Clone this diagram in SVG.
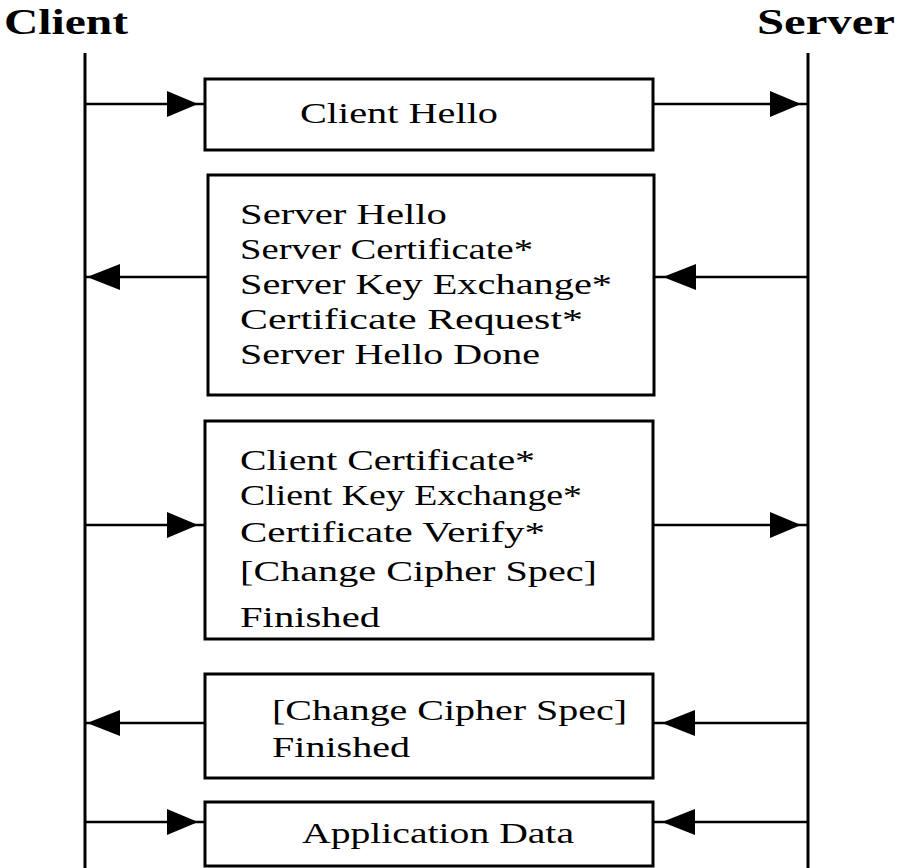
<svg xmlns="http://www.w3.org/2000/svg" width="898" height="868" viewBox="0 0 898 868">
<style>
.lifeline{stroke:#000;stroke-width:3;fill:none}
.box{fill:#fff;stroke:#000;stroke-width:3}
.msg{stroke:#000;stroke-width:2.5;fill:none}
.head{fill:#000}
.t{font-family:"Liberation Serif","Times New Roman",serif;font-size:30px;fill:#000}
.h{font-family:"Liberation Serif","Times New Roman",serif;font-size:35px;font-weight:bold;fill:#000}
</style>
<defs>
<polygon id="ar" class="head" points="0,0 -31,-13 -31,13"/>
<polygon id="al" class="head" points="0,0 33,-13 33,13"/>
</defs>
<rect width="898" height="868" fill="#fff"/>
<g id="client">
<text class="h" x="4" y="34" textLength="124" lengthAdjust="spacingAndGlyphs">Client</text>
<line class="lifeline" x1="85" y1="53" x2="85" y2="868"/>
</g>
<g id="server">
<text class="h" x="757" y="34" textLength="138" lengthAdjust="spacingAndGlyphs">Server</text>
<line class="lifeline" x1="808" y1="53" x2="808" y2="868"/>
</g>
<g id="connectors">
<line class="msg" x1="85" y1="104" x2="205" y2="104"/><use href="#ar" x="198" y="104"/>
<line class="msg" x1="653" y1="104" x2="808" y2="104"/><use href="#ar" x="801" y="104"/>
<line class="msg" x1="85" y1="277" x2="208" y2="277"/><use href="#al" x="87" y="277"/>
<line class="msg" x1="654" y1="277" x2="808" y2="277"/><use href="#al" x="663" y="277"/>
<line class="msg" x1="85" y1="525" x2="205" y2="525"/><use href="#ar" x="198" y="525"/>
<line class="msg" x1="653" y1="525" x2="808" y2="525"/><use href="#ar" x="801" y="525"/>
<line class="msg" x1="85" y1="723" x2="205" y2="723"/><use href="#al" x="87" y="723"/>
<line class="msg" x1="653" y1="723" x2="808" y2="723"/><use href="#al" x="662" y="723"/>
<line class="msg" x1="85" y1="822" x2="205" y2="822"/><use href="#ar" x="198" y="822"/>
<line class="msg" x1="653" y1="822" x2="808" y2="822"/><use href="#al" x="662" y="822"/>
</g>
<g id="client-hello">
<rect class="box" x="205" y="79" width="448" height="71"/>
<text class="t" x="300" y="123" textLength="198" lengthAdjust="spacingAndGlyphs">Client Hello</text>
</g>
<g id="server-hello">
<rect class="box" x="208" y="175" width="446" height="220"/>
<text class="t" x="240" y="224" textLength="207" lengthAdjust="spacingAndGlyphs">Server Hello</text>
<text class="t" x="240" y="259" textLength="293" lengthAdjust="spacingAndGlyphs">Server Certificate*</text>
<text class="t" x="240" y="294" textLength="372" lengthAdjust="spacingAndGlyphs">Server Key Exchange*</text>
<text class="t" x="240" y="329" textLength="343" lengthAdjust="spacingAndGlyphs">Certificate Request*</text>
<text class="t" x="240" y="364" textLength="300" lengthAdjust="spacingAndGlyphs">Server Hello Done</text>
</g>
<g id="client-finish">
<rect class="box" x="205" y="421" width="448" height="218"/>
<text class="t" x="240" y="470" textLength="295" lengthAdjust="spacingAndGlyphs">Client Certificate*</text>
<text class="t" x="240" y="505" textLength="342" lengthAdjust="spacingAndGlyphs">Client Key Exchange*</text>
<text class="t" x="240" y="542" textLength="305" lengthAdjust="spacingAndGlyphs">Certificate Verify*</text>
<text class="t" x="240" y="581" textLength="357" lengthAdjust="spacingAndGlyphs">[Change Cipher Spec]</text>
<text class="t" x="240" y="627" textLength="140" lengthAdjust="spacingAndGlyphs">Finished</text>
</g>
<g id="server-finish">
<rect class="box" x="205" y="674" width="448" height="104"/>
<text class="t" x="272" y="720" textLength="355" lengthAdjust="spacingAndGlyphs">[Change Cipher Spec]</text>
<text class="t" x="272" y="757" textLength="138" lengthAdjust="spacingAndGlyphs">Finished</text>
</g>
<g id="application-data">
<rect class="box" x="205" y="802" width="448" height="64"/>
<text class="t" x="302" y="843" textLength="272" lengthAdjust="spacingAndGlyphs">Application Data</text>
</g>
</svg>
